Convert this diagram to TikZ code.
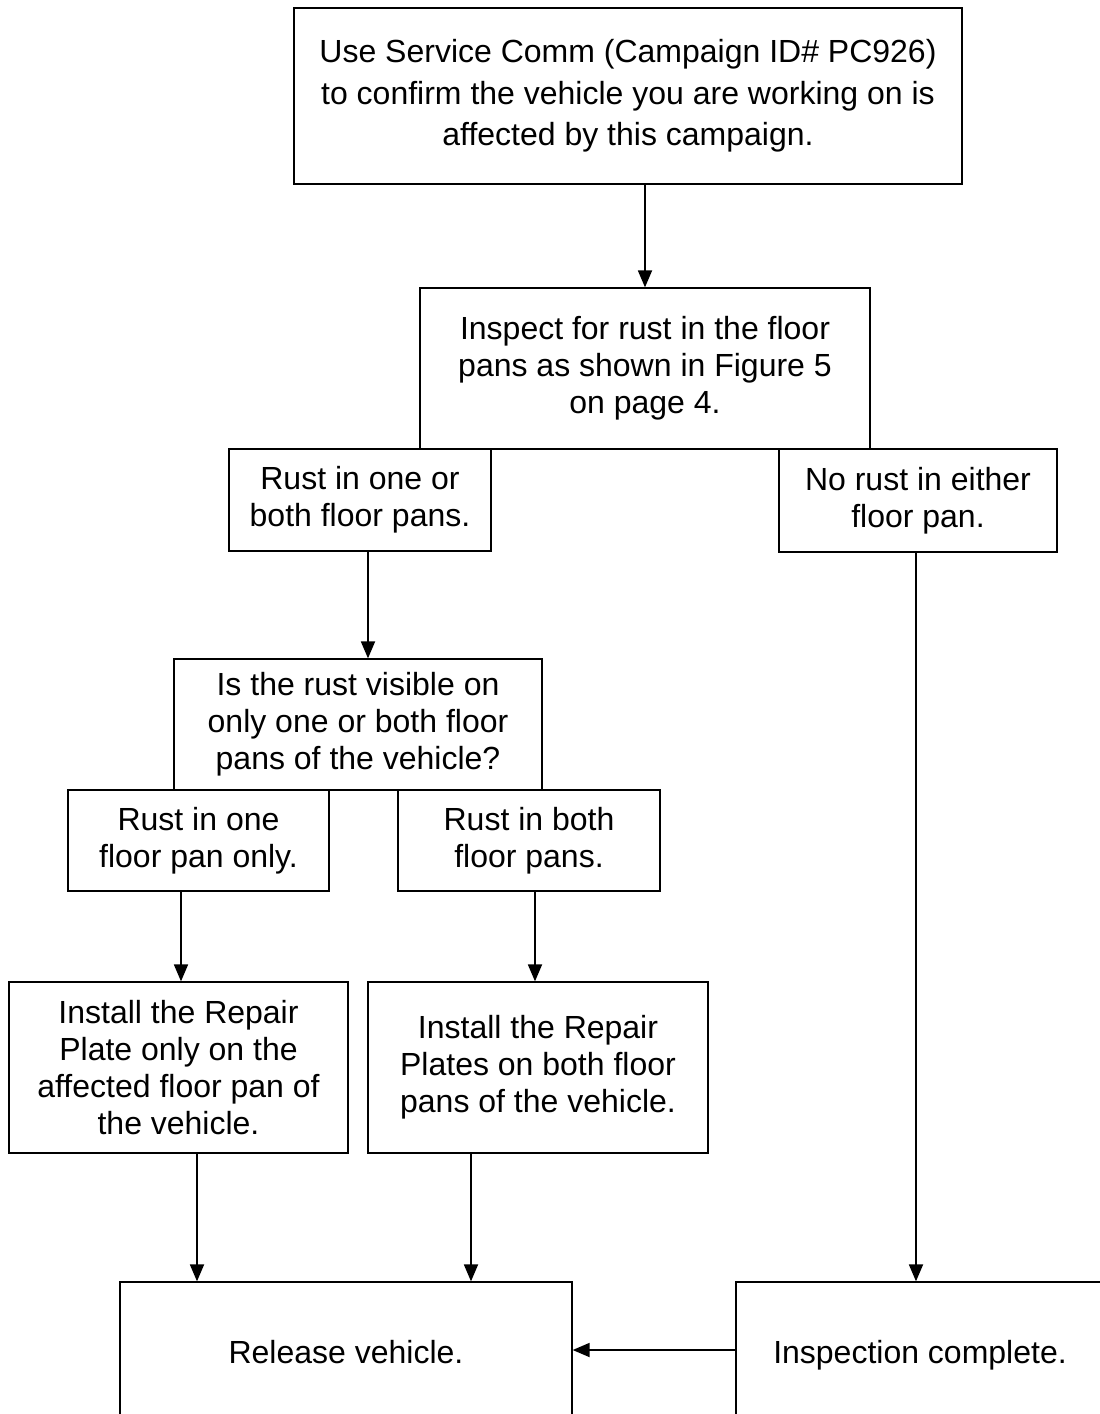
\documentclass[tikz,border=0pt]{standalone}
\usepackage{fontspec}
\setmainfont{Liberation Sans}
\usetikzlibrary{arrows.meta}
\tikzset{
  box/.style={draw=black, line width=1.3pt, rectangle, align=center, inner sep=0pt,
    font=\fontsize{32}{37}\selectfont},
  endbox/.style={box, text height=28pt, text depth=2pt},
  arr/.style={draw=black, line width=1.8pt, -{Triangle[length=17pt,width=14pt]}},
}
\begin{document}
\begin{tikzpicture}[x=1pt,y=-1pt]
\clip (0,0) rectangle (1100,1414);
\fill[white] (0,0) rectangle (1100,1414);

\node[box, minimum width=668pt, minimum height=176pt, font=\fontsize{32}{41.5}\selectfont] (B1) at (628,96)
  {Use Service Comm (Campaign ID\# PC926)\\to confirm the vehicle you are working on is\\affected by this campaign.};
\node[box, minimum width=450pt, minimum height=161pt] (B2) at (645,368.5)
  {Inspect for rust in the floor\\pans as shown in Figure 5\\on page 4.};
\node[box, minimum width=262pt, minimum height=102pt] (B3) at (360,500)
  {Rust in one or\\both floor pans.};
\node[box, minimum width=278pt, minimum height=103pt] (B4) at (918,500.5)
  {No rust in either\\floor pan.};
\node[box, minimum width=368pt, minimum height=131pt] (B5) at (358,724.5)
  {Is the rust visible on\\only one or both floor\\pans of the vehicle?};
\node[box, minimum width=261pt, minimum height=101pt] (B6) at (198.5,840.5)
  {Rust in one\\floor pan only.};
\node[box, minimum width=262pt, minimum height=101pt] (B7) at (529,840.5)
  {Rust in both\\floor pans.};
\node[box, minimum width=339pt, minimum height=171pt] (B8) at (178.5,1067.5)
  {Install the Repair\\Plate only on the\\affected floor pan of\\the vehicle.};
\node[box, minimum width=340pt, minimum height=171pt] (B9) at (538,1067.5)
  {Install the Repair\\Plates on both floor\\pans of the vehicle.};
\node[endbox, minimum width=452pt, minimum height=136pt] (B10) at (346,1350)
  {Release vehicle.};
\node[endbox, minimum width=368pt, minimum height=136pt] (B11) at (920,1350)
  {Inspection complete.};

\draw[arr] (B1.south -| B2.north) -- (B2.north);
\draw[arr] ([xshift=8pt]B3.south) -- ([xshift=8pt]B3.south |- B5.north);
\draw[arr] ([xshift=-17.5pt]B6.south) -- ([xshift=-17.5pt]B6.south |- B8.north);
\draw[arr] ([xshift=6pt]B7.south) -- ([xshift=6pt]B7.south |- B9.north);
\draw[arr] ([xshift=18.5pt]B8.south) -- ([xshift=18.5pt]B8.south |- B10.north);
\draw[arr] ([xshift=-67pt]B9.south) -- ([xshift=-67pt]B9.south |- B10.north);
\draw[arr] ([xshift=-2pt]B4.south) -- ([xshift=-2pt]B4.south |- B11.north);
\draw[arr] (B11.west) -- (B10.east);
\end{tikzpicture}
\end{document}
